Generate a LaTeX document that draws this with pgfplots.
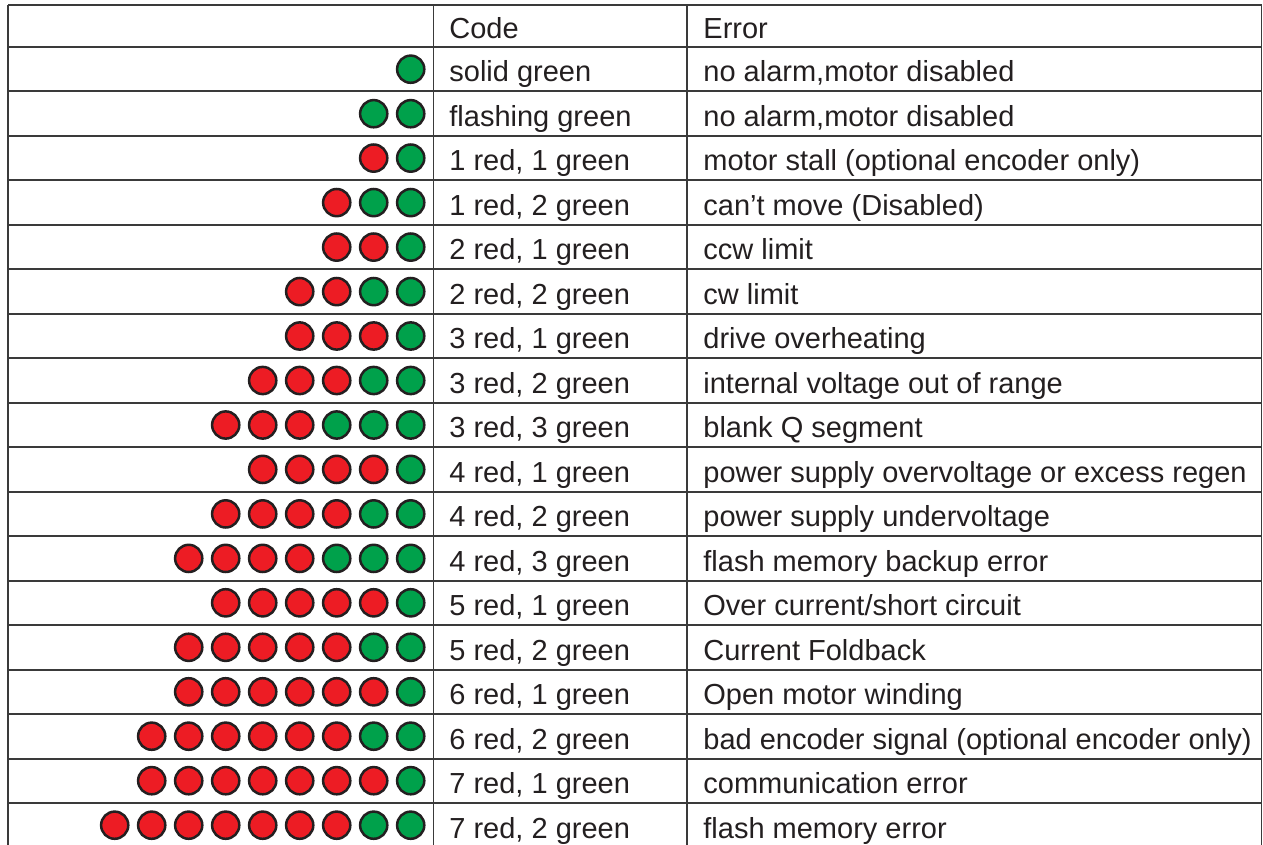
\documentclass[border=0pt]{standalone}
\usepackage{fontspec}
\setmainfont{Liberation Sans}
\usepackage{pgfplots}
\pgfplotsset{compat=1.18}
\definecolor{ledred}{HTML}{ED1C24}
\definecolor{ledgreen}{HTML}{00A14B}
\definecolor{ink}{HTML}{231F20}
\definecolor{rule}{HTML}{3A3A3A}
\begin{document}
\begin{tikzpicture}
\begin{axis}[
  width=631.5pt, height=422.5pt, scale only axis,
  xmin=0, xmax=1263, ymin=0, ymax=845, y dir=reverse,
  hide axis, clip=false,
]
% grid of the table
\foreach \yy in {5.3,47.0,91.5,135.9,180.4,224.9,269.3,313.8,358.3,402.8,447.2,491.7,536.2,580.6,625.1,669.6,714.0,758.5,803.0}{
  \edef\tmp{\noexpand\draw[rule, line width=1pt] (axis cs:8.3,\yy) -- (axis cs:1261.5,\yy);}\tmp
}
\foreach \xx in {8.3,433.5,686.7,1261.5}{
  \edef\tmp{\noexpand\draw[rule, line width=0.9pt] (axis cs:\xx,5.3) -- (axis cs:\xx,845);}\tmp
}
% green LEDs
\addplot[only marks, mark=*, mark size=6.8pt, mark options={fill=ledgreen, draw=ink, line width=1.25pt}] coordinates {
(410.7,69.2)
(410.7,113.7) (373.7,113.7)
(410.7,158.1)
(410.7,202.6) (373.7,202.6)
(410.7,247.1)
(410.7,291.6) (373.7,291.6)
(410.7,336.0)
(410.7,380.5) (373.7,380.5)
(410.7,425.0) (373.7,425.0) (336.7,425.0)
(410.7,469.4)
(410.7,513.9) (373.7,513.9)
(410.7,558.4) (373.7,558.4) (336.7,558.4)
(410.7,602.8)
(410.7,647.3) (373.7,647.3)
(410.7,691.8)
(410.7,736.2) (373.7,736.2)
(410.7,780.7)
(410.7,825.2) (373.7,825.2)
};
% red LEDs
\addplot[only marks, mark=*, mark size=6.8pt, mark options={fill=ledred, draw=ink, line width=1.25pt}] coordinates {
(373.7,158.1)
(336.7,202.6)
(373.7,247.1) (336.7,247.1)
(336.7,291.6) (299.7,291.6)
(373.7,336.0) (336.7,336.0) (299.7,336.0)
(336.7,380.5) (299.7,380.5) (262.7,380.5)
(299.7,425.0) (262.7,425.0) (225.7,425.0)
(373.7,469.4) (336.7,469.4) (299.7,469.4) (262.7,469.4)
(336.7,513.9) (299.7,513.9) (262.7,513.9) (225.7,513.9)
(299.7,558.4) (262.7,558.4) (225.7,558.4) (188.7,558.4)
(373.7,602.8) (336.7,602.8) (299.7,602.8) (262.7,602.8) (225.7,602.8)
(336.7,647.3) (299.7,647.3) (262.7,647.3) (225.7,647.3) (188.7,647.3)
(373.7,691.8) (336.7,691.8) (299.7,691.8) (262.7,691.8) (225.7,691.8) (188.7,691.8)
(336.7,736.2) (299.7,736.2) (262.7,736.2) (225.7,736.2) (188.7,736.2) (151.7,736.2)
(373.7,780.7) (336.7,780.7) (299.7,780.7) (262.7,780.7) (225.7,780.7) (188.7,780.7) (151.7,780.7)
(336.7,825.2) (299.7,825.2) (262.7,825.2) (225.7,825.2) (188.7,825.2) (151.7,825.2) (114.7,825.2)
};
% text
\tikzset{cell/.style={anchor=base west, inner sep=0pt, text=ink, font=\fontsize{14.5}{16}\selectfont}}
\node[cell] at (axis cs:449,39.0) {Code};
\node[cell] at (axis cs:703,39.0) {Error};
\node[cell] at (axis cs:449,82.0) {solid green};
\node[cell] at (axis cs:703,82.0) {no alarm,motor disabled};
\node[cell] at (axis cs:449,126.5) {flashing green};
\node[cell] at (axis cs:703,126.5) {no alarm,motor disabled};
\node[cell] at (axis cs:449,170.9) {1 red, 1 green};
\node[cell] at (axis cs:703,170.9) {motor stall (optional encoder only)};
\node[cell] at (axis cs:449,215.4) {1 red, 2 green};
\node[cell] at (axis cs:703,215.4) {can’t move (Disabled)};
\node[cell] at (axis cs:449,259.9) {2 red, 1 green};
\node[cell] at (axis cs:703,259.9) {ccw limit};
\node[cell] at (axis cs:449,304.4) {2 red, 2 green};
\node[cell] at (axis cs:703,304.4) {cw limit};
\node[cell] at (axis cs:449,348.8) {3 red, 1 green};
\node[cell] at (axis cs:703,348.8) {drive overheating};
\node[cell] at (axis cs:449,393.3) {3 red, 2 green};
\node[cell] at (axis cs:703,393.3) {internal voltage out of range};
\node[cell] at (axis cs:449,437.8) {3 red, 3 green};
\node[cell] at (axis cs:703,437.8) {blank Q segment};
\node[cell] at (axis cs:449,482.2) {4 red, 1 green};
\node[cell] at (axis cs:703,482.2) {power supply overvoltage or excess regen};
\node[cell] at (axis cs:449,526.7) {4 red, 2 green};
\node[cell] at (axis cs:703,526.7) {power supply undervoltage};
\node[cell] at (axis cs:449,571.2) {4 red, 3 green};
\node[cell] at (axis cs:703,571.2) {flash memory backup error};
\node[cell] at (axis cs:449,615.6) {5 red, 1 green};
\node[cell] at (axis cs:703,615.6) {Over current/short circuit};
\node[cell] at (axis cs:449,660.1) {5 red, 2 green};
\node[cell] at (axis cs:703,660.1) {Current Foldback};
\node[cell] at (axis cs:449,704.6) {6 red, 1 green};
\node[cell] at (axis cs:703,704.6) {Open motor winding};
\node[cell] at (axis cs:449,749.0) {6 red, 2 green};
\node[cell] at (axis cs:703,749.0) {bad encoder signal (optional encoder only)};
\node[cell] at (axis cs:449,793.5) {7 red, 1 green};
\node[cell] at (axis cs:703,793.5) {communication error};
\node[cell] at (axis cs:449,838.0) {7 red, 2 green};
\node[cell] at (axis cs:703,838.0) {flash memory error};
\end{axis}
\pgfresetboundingbox
\useasboundingbox (current axis.south west) rectangle (current axis.north east);
\end{tikzpicture}
\end{document}
